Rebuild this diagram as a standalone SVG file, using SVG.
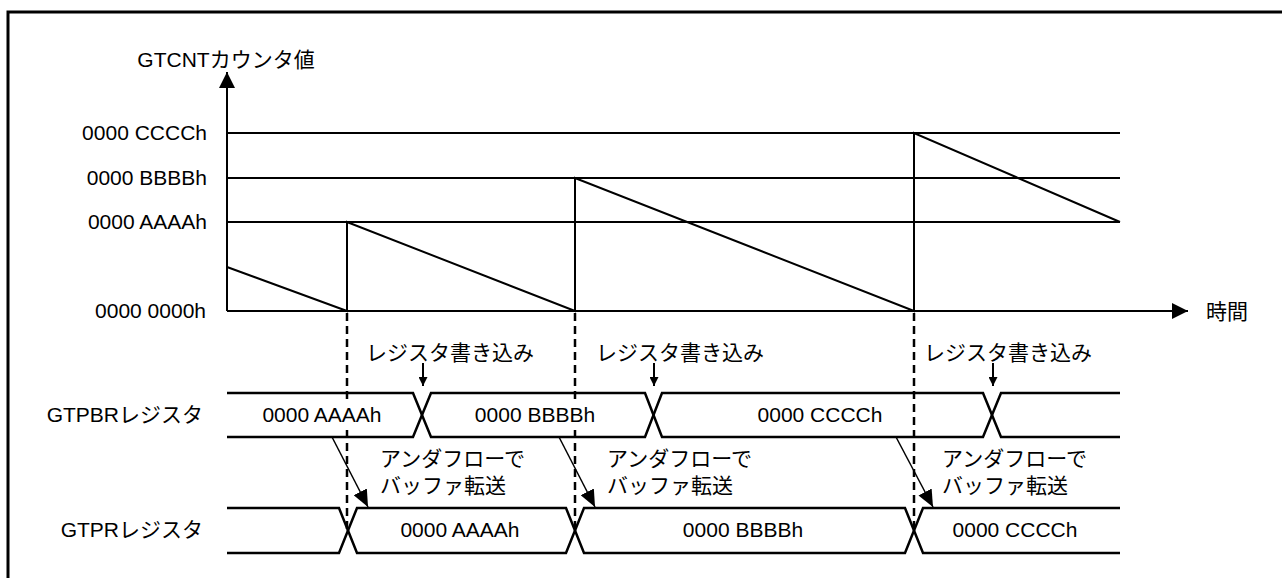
<svg xmlns="http://www.w3.org/2000/svg" width="1282" height="578" viewBox="0 0 1282 578">
<style>
text{font-family:"Liberation Sans","Noto Sans CJK JP",sans-serif;font-size:21px;fill:#000}
.ln{stroke:#000;stroke-width:2;fill:none}
.wv{stroke:#000;stroke-width:2.5;fill:none;stroke-linejoin:miter}
.dash{stroke:#000;stroke-width:2.5;stroke-dasharray:8 5;fill:none}
.thin{stroke:#000;stroke-width:1.5;fill:none}
.mid{text-anchor:middle}
.end{text-anchor:end}
</style>
<defs>
<marker id="bigArrow" viewBox="0 0 16 16" refX="16" refY="8" markerWidth="16" markerHeight="16" markerUnits="userSpaceOnUse" orient="auto">
<path d="M0,0 L16,8 L0,16 Z" fill="#000"/>
</marker>
<marker id="smallArrow" viewBox="0 0 10 10" refX="10" refY="5" markerWidth="9" markerHeight="9" markerUnits="userSpaceOnUse" orient="auto">
<path d="M0,0 L10,5 L0,10 Z" fill="#000"/>
</marker>
<marker id="midArrow" viewBox="0 0 16 14" refX="16" refY="7" markerWidth="17" markerHeight="15" markerUnits="userSpaceOnUse" orient="auto">
<path d="M0,0 L16,7 L0,14 Z" fill="#000"/>
</marker>
</defs>
<rect x="0" y="0" width="1282" height="578" fill="#fff"/>
<rect id="frame" x="8" y="12" width="1300" height="620" fill="none" stroke="#000" stroke-width="3"/>

<g id="axes">
<line class="ln" x1="227" y1="311" x2="227" y2="72" marker-end="url(#bigArrow)"/>
<line class="ln" x1="227" y1="311" x2="1188" y2="311" marker-end="url(#bigArrow)"/>
<line class="ln" x1="227" y1="133" x2="1120" y2="133"/>
<line class="ln" x1="227" y1="178" x2="1120" y2="178"/>
<line class="ln" x1="227" y1="222" x2="1120" y2="222"/>
<text class="mid" x="226" y="67">GTCNTカウンタ値</text>
<text class="end" x="207" y="140">0000 CCCCh</text>
<text class="end" x="207" y="185">0000 BBBBh</text>
<text class="end" x="207" y="229">0000 AAAAh</text>
<text class="end" x="206" y="318">0000 0000h</text>
<text x="1206" y="319">時間</text>
</g>

<g id="sawtooth">
<path class="ln" d="M227,267 L347,311 V222 L575,311 V178 L914,311 V133 L1120,222"/>
</g>

<g id="connectors">
<line class="dash" x1="347" y1="313" x2="347" y2="530"/>
<line class="dash" x1="575" y1="313" x2="575" y2="530"/>
<line class="dash" x1="914" y1="313" x2="914" y2="530"/>
<line class="ln" x1="423" y1="363" x2="423" y2="386" marker-end="url(#smallArrow)"/>
<line class="ln" x1="654" y1="363" x2="654" y2="386" marker-end="url(#smallArrow)"/>
<line class="ln" x1="993" y1="363" x2="993" y2="386" marker-end="url(#smallArrow)"/>
<line class="thin" x1="332" y1="437" x2="368" y2="507" marker-end="url(#midArrow)"/>
<line class="thin" x1="559" y1="437" x2="595" y2="507" marker-end="url(#midArrow)"/>
<line class="thin" x1="896" y1="437" x2="933" y2="507" marker-end="url(#midArrow)"/>
</g>

<g id="write-labels">
<text class="mid" x="450" y="360">レジスタ書き込み</text>
<text class="mid" x="680" y="360">レジスタ書き込み</text>
<text class="mid" x="1008" y="360">レジスタ書き込み</text>
</g>

<g id="gtpbr">
<text class="end" x="203" y="422">GTPBRレジスタ</text>
<path class="wv" d="M227,393 H413 L431,437 H645 L662,393 H983 L1001,437 H1120"/>
<path class="wv" d="M227,437 H413 L431,393 H645 L662,437 H983 L1001,393 H1120"/>
<rect x="262" y="404" width="121" height="24" fill="#fff"/>
<rect x="475" y="404" width="121" height="24" fill="#fff"/>
<text class="mid" x="322" y="422">0000 AAAAh</text>
<text class="mid" x="535" y="422">0000 BBBBh</text>
<text class="mid" x="820" y="422">0000 CCCCh</text>
</g>

<g id="transfer-labels">
<text x="380" y="466">アンダフローで</text>
<text x="380" y="493">バッファ転送</text>
<text x="607" y="466">アンダフローで</text>
<text x="607" y="493">バッファ転送</text>
<text x="942" y="466">アンダフローで</text>
<text x="942" y="493">バッファ転送</text>
</g>

<g id="gtpr">
<text class="end" x="203" y="537">GTPRレジスタ</text>
<path class="wv" d="M227,508 H339 L357,553 H566 L584,508 H905 L923,553 H1120"/>
<path class="wv" d="M227,553 H339 L357,508 H566 L584,553 H905 L923,508 H1120"/>
<text class="mid" x="460" y="537">0000 AAAAh</text>
<text class="mid" x="743" y="537">0000 BBBBh</text>
<text class="mid" x="1015" y="537">0000 CCCCh</text>
</g>
</svg>
